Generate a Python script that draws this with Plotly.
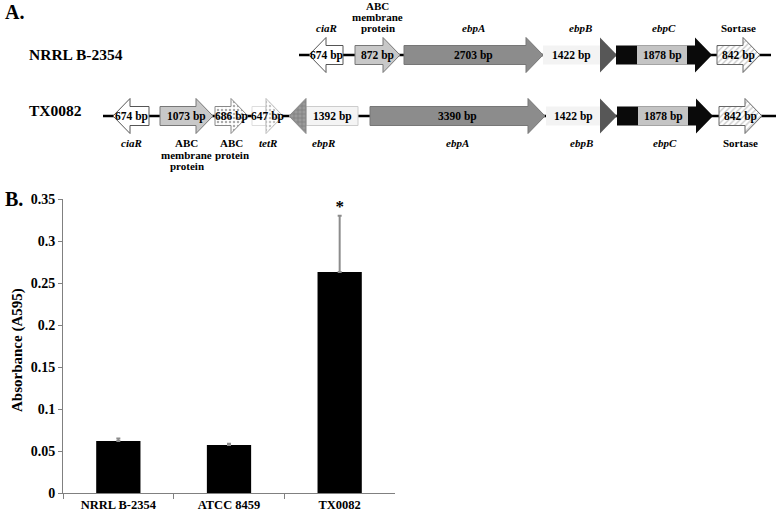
import plotly.graph_objects as go

# ---- panel B data ----
strains = ["NRRL B-2354", "ATCC 8459", "TX0082"]
absorbance = [0.062, 0.057, 0.263]
absorbance_err = [0.003, 0.0015, 0.067]
significance = ["", "", "*"]

# ---- panel A data (gene map, map units left -> right) ----
nrrl_genes = ["ciaR", "ABC\nmembrane\nprotein", "ebpA", "ebpB", "ebpC", "Sortase"]
nrrl_sizes = ["674 bp", "872 bp", "2703 bp", "1422 bp", "1878 bp", "842 bp"]
nrrl_start = [309, 355, 404, 543, 616, 717]
nrrl_end = [343, 400, 543, 617, 712, 760]
nrrl_strand = [-1, 1, 1, 1, 1, 1]
nrrl_span = [299, 771]

tx_genes = ["ciaR", "ABC\nmembrane\nprotein", "ABC\nprotein", "tetR", "ebpR",
            "ebpA", "ebpB", "ebpC", "Sortase"]
tx_sizes = ["674 bp", "1073 bp", "686 bp", "647 bp", "1392 bp", "3390 bp",
            "1422 bp", "1878 bp", "842 bp"]
tx_start = [113, 160, 215, 252, 289, 370, 546, 617, 719]
tx_end = [149, 213, 248, 283, 358, 545, 617, 713, 762]
tx_strand = [-1, 1, 1, 1, -1, 1, 1, 1, 1]
tx_span = [103, 776]

SERIF = "Liberation Serif"
HEAD = 17      # arrow head length
BODY = 9.5     # half height of gene body
HEADH = 17.5   # half height of arrow head
TEXT_ON_BODY = {"ebpB", "ebpR"}

# fill styles: (body, head); each is dict(fill, pattern, fg, line)
STYLE = {
    "ciaR": (dict(fill="white", line="#555555"), None),
    "ABC\nmembrane\nprotein": (dict(fill="#c8c8c8", line="#777777"), None),
    "ABC\nprotein": (dict(fill="white", pattern=".", fg="#555555", line="#888888"), None),
    "tetR": (dict(fill="white", line="#dddddd"),
             dict(fill="white", pattern=".", fg="#888888", line="#bbbbbb")),
    "ebpR": (dict(fill="#f4f4f4", line="#cccccc"),
             dict(fill="#9a9a9a", pattern="+", fg="#555555", line="#888888")),
    "ebpA": (dict(fill="#8c8c8c", line="#777777"), None),
    "ebpB": (dict(fill="#f3f3f3", line=None), dict(fill="#575757", line=None)),
    "ebpC": (dict(fill="#0a0a0a", line=None), None),
    "Sortase": (dict(fill="white", pattern="/", fg="#8a8a8a", line="#666666"), None),
}

fig = go.Figure()


def poly(xs, ys, st):
    fp = None
    if st.get("pattern"):
        fp = dict(shape=st["pattern"], fgcolor=st["fg"], bgcolor=st["fill"],
                  size=4, solidity=0.3)
    lc = st.get("line")
    fig.add_trace(go.Scatter(
        x=xs, y=ys, xaxis="x2", yaxis="y2", mode="lines", fill="toself",
        fillcolor=st["fill"], fillpattern=fp,
        line=dict(color=lc if lc else st["fill"], width=1 if lc else 0),
        hoverinfo="skip", showlegend=False))


def draw_row(genes, sizes, start, end, strand, span, yc, label_side):
    fig.add_trace(go.Scatter(x=span, y=[yc, yc], xaxis="x2", yaxis="y2", mode="lines",
                             line=dict(color="black", width=2.5),
                             hoverinfo="skip", showlegend=False))
    for g, s, x0, x1, d in zip(genes, sizes, start, end, strand):
        body, head = STYLE[g]
        hb = x1 - HEAD if d > 0 else x0 + HEAD
        tip = x1 if d > 0 else x0
        tail = x0 if d > 0 else x1
        if head is None:
            xs = [tail, hb, hb, tip, hb, hb, tail, tail]
            ys = [yc - BODY, yc - BODY, yc - HEADH, yc, yc + HEADH, yc + BODY, yc + BODY, yc - BODY]
            poly(xs, ys, body)
        else:
            poly([tail, hb, hb, tail, tail],
                 [yc - BODY, yc - BODY, yc + BODY, yc + BODY, yc - BODY], body)
            poly([hb, tip, hb, hb], [yc - HEADH, yc, yc + HEADH, yc - HEADH], head)
        tx = (tail + hb) / 2 if g in TEXT_ON_BODY else (x0 + x1) / 2
        if g == "ebpC":
            poly([x0 + 21, x0 + 71, x0 + 71, x0 + 21, x0 + 21],
                 [yc - BODY, yc - BODY, yc + BODY, yc + BODY, yc - BODY],
                 dict(fill="#c4c4c4", line=None))
            tx = x0 + 46
        fig.add_annotation(x=tx, y=yc, xref="x2", yref="y2", text="<b>%s</b>" % s,
                           showarrow=False, font=dict(family=SERIF, size=11.5, color="black"))
        # gene name
        lines = g.split("\n")
        gx = (x0 + x1) / 2
        for i, ln in enumerate(lines):
            txt = "<i>%s</i>" % ln if ln in ("ciaR", "tetR", "ebpR", "ebpA", "ebpB", "ebpC") else ln
            if label_side < 0:
                yy = yc - 27 - 11 * (len(lines) - 1 - i)
            else:
                yy = yc + 27 + 11.5 * i
            fig.add_annotation(x=gx, y=yy, xref="x2", yref="y2", text="<b>%s</b>" % txt,
                               showarrow=False, font=dict(family=SERIF, size=11, color="black"))


draw_row(nrrl_genes, nrrl_sizes, nrrl_start, nrrl_end, nrrl_strand, nrrl_span, 55, -1)
draw_row(tx_genes, tx_sizes, tx_start, tx_end, tx_strand, tx_span, 116, 1)

# ---- panel B bars ----
fig.add_trace(go.Bar(
    x=strains, y=absorbance, width=0.4, marker=dict(color="black", line=dict(width=0)),
    error_y=dict(type="data", symmetric=False, array=absorbance_err,
                 arrayminus=[0] * len(strains), color="#8c8c8c", thickness=2, width=2),
    showlegend=False))
fig.add_trace(go.Scatter(
    x=strains, y=[a + e for a, e in zip(absorbance, absorbance_err)], text=significance,
    mode="text", textposition="top center",
    textfont=dict(family=SERIF, size=17, color="black", weight="bold"),
    showlegend=False, hoverinfo="skip"))

# panel letters, row names, axis title
for txt, x, y, size in [("A.", 3, 12, 20), ("B.", 3, 199, 20),
                        ("NRRL B-2354", 27, 54, 15.5), ("TX0082", 27, 110, 15.5)]:
    fig.add_annotation(x=x, y=y, xref="x2", yref="y2", text="<b>%s</b>" % txt,
                       xanchor="left", showarrow=False,
                       font=dict(family=SERIF, size=size, color="black"))
fig.add_annotation(x=17, y=350, xref="x2", yref="y2", text="<b>Absorbance (A595)</b>",
                   textangle=-90, showarrow=False,
                   font=dict(family=SERIF, size=15, color="black"))

axis_col = "#808080"
fig.update_layout(
    width=777, height=512, margin=dict(l=0, r=0, t=0, b=0),
    paper_bgcolor="white", plot_bgcolor="rgba(0,0,0,0)",
    xaxis=dict(domain=[63 / 777, 395 / 777], showline=True, linecolor=axis_col,
               ticks="outside", tickson="boundaries", ticklen=5, tickcolor=axis_col,
               showgrid=False, automargin=False,
               tickfont=dict(family=SERIF, size=12.5, color="black", weight="bold")),
    yaxis=dict(domain=[1 - 493 / 512, 1 - 199 / 512], range=[0, 0.35], dtick=0.05,
               showline=True, linecolor=axis_col, ticks="outside", ticklen=4,
               tickcolor=axis_col, showgrid=False, zeroline=False, automargin=False,
               tickfont=dict(family=SERIF, size=14, color="black", weight="bold")),
    xaxis2=dict(domain=[0, 1], range=[0, 777], visible=False, anchor="y2", automargin=False),
    yaxis2=dict(domain=[0, 1], range=[512, 0], visible=False, anchor="x2", automargin=False),
)

# the page's default body margin would shift the fixed-size figure
fig.write_html("out.html", config={"displayModeBar": False},
               post_script="document.body.style.margin='0';")
